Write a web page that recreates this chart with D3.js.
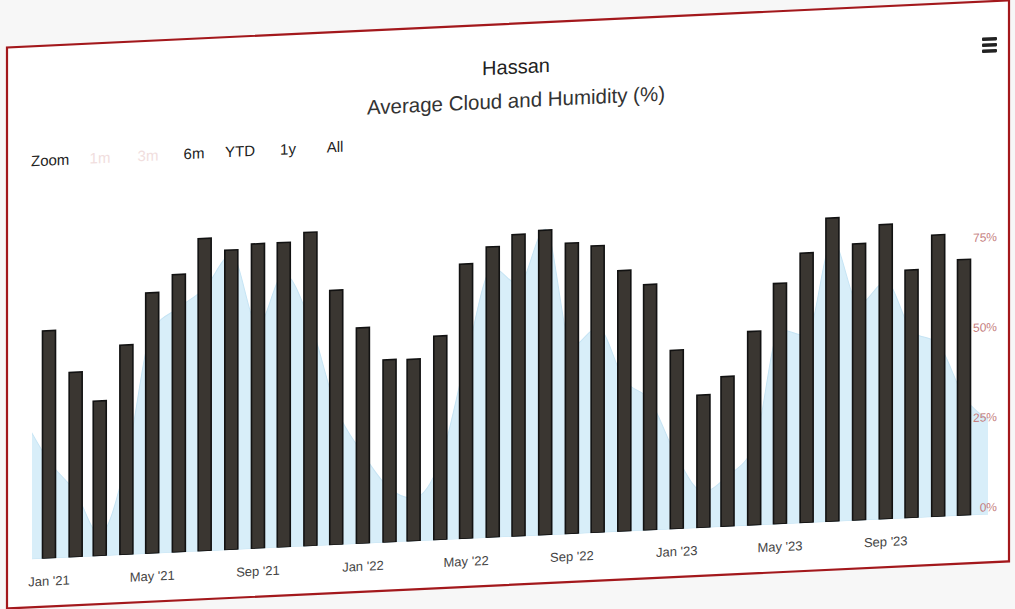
<!DOCTYPE html>
<html>
<head>
<meta charset="utf-8">
<script src="https://cdn.jsdelivr.net/npm/d3@7/dist/d3.min.js"></script>
<style>
  html, body { margin: 0; padding: 0; background: #f7f7f7; }
  svg { display: block; }
  text { font-family: "Liberation Sans", "Noto Sans", sans-serif; }
</style>
</head>
<body>
<svg id="chart" width="1015" height="609"></svg>
<script>
// Monthly average humidity (%), Jan 2021 - Dec 2023
const humidity = [
  63.3, 51.4, 43.1, 58.3, 72.5, 77.2, 86.9, 83.3, 84.7, 84.7, 87.2, 70.8,
  60.0, 50.8, 50.6, 56.7, 76.4, 80.8, 83.9, 84.7, 80.8, 79.7, 72.5, 68.3,
  49.7, 36.9, 41.7, 53.9, 66.9, 75.0, 84.4, 76.9, 81.9, 68.9, 78.3, 71.1
];
// Monthly average cloud cover (%), Dec 2020 - Jan 2024
const cloud = [
  40,
  27, 18, 6, 26, 62, 68, 73, 82, 62, 76, 62, 38,
  25, 15, 12, 22, 50, 75, 70, 85, 52, 57, 42, 36,
  20, 10, 14, 22, 54, 52, 78, 60, 66, 52, 48, 33,
  26
];
const humidityStart = "2021-01-01";
const cloudStart = "2020-12-01";
const xTickLabels = ["Jan '21", "May '21", "Sep '21", "Jan '22", "May '22", "Sep '22", "Jan '23", "May '23", "Sep '23"];
const xTickDates = ["2021-01-01", "2021-05-01", "2021-09-01", "2022-01-01", "2022-05-01", "2022-09-01", "2023-01-01", "2023-05-01", "2023-09-01"];
const yTicks = [0, 25, 50, 75];
const rangeButtons = ["1m", "3m", "6m", "YTD", "1y", "All"];
const rangeEnabled = [false, false, true, true, true, true];

const parse = d3.utcParse("%Y-%m-%d");
const humDates = humidity.map((_, i) => d3.utcMonth.offset(parse(humidityStart), i));
const cloudDates = cloud.map((_, i) => d3.utcMonth.offset(parse(cloudStart), i));

const svg = d3.select("#chart");

// chart frame, slightly sheared as displayed
const root = svg.append("g").attr("transform", "translate(0,23.8) skewY(-2.69)");

root.append("rect")
  .attr("x", 7).attr("y", 24).attr("width", 1002).attr("height", 561)
  .attr("fill", "#ffffff").attr("stroke", "#a3181c").attr("stroke-width", 2.2);

// titles
root.append("text").attr("x", 516).attr("y", 74).attr("text-anchor", "middle")
  .attr("font-size", 20).attr("fill", "#222").text("Hassan");
root.append("text").attr("x", 516).attr("y", 108).attr("text-anchor", "middle")
  .attr("font-size", 20.5).attr("fill", "#333").text("Average Cloud and Humidity (%)");

// export menu icon
const menu = root.append("g").attr("transform", "translate(982,60)");
[0, 6, 12].forEach(dy => menu.append("rect").attr("x", 0).attr("y", dy).attr("width", 15).attr("height", 3.4)
  .attr("rx", 1).attr("fill", "#222"));

// range selector
const rs = root.append("g").attr("font-size", 15);
rs.append("text").attr("x", 31).attr("y", 144).attr("fill", "#222").text("Zoom");
const btnX = [100, 148, 194, 240, 288, 335];
rangeButtons.forEach((b, i) => {
  rs.append("text").attr("x", btnX[i]).attr("y", 144).attr("text-anchor", "middle")
    .attr("fill", rangeEnabled[i] ? "#222" : "#f1dede").text(b);
});

// plot area
const plot = { left: 32, right: 988, top: 170, bottom: 537 };
const x = d3.scaleUtc()
  .domain([parse("2021-01-01"), parse("2023-12-01")])
  .range([49, 964]);
const y = d3.scaleLinear().domain([0, 100]).range([plot.bottom, plot.bottom - 360]);

root.append("clipPath").attr("id", "plotClip").append("rect")
  .attr("x", plot.left).attr("y", plot.top).attr("width", plot.right - plot.left).attr("height", plot.bottom - plot.top);

const pg = root.append("g").attr("clip-path", "url(#plotClip)");

// cloud cover area
const area = d3.area()
  .x((d, i) => x(cloudDates[i]))
  .y0(plot.bottom)
  .y1(d => y(d))
  .curve(d3.curveMonotoneX);
pg.append("path").datum(cloud)
  .attr("d", area)
  .attr("fill", "#d8eef9").attr("stroke", "#c6e4f4").attr("stroke-width", 1);

// humidity columns
const barW = 13;
pg.selectAll("rect.bar").data(humidity).join("rect")
  .attr("class", "bar")
  .attr("x", (d, i) => x(humDates[i]) - barW / 2)
  .attr("y", d => y(d))
  .attr("width", barW)
  .attr("height", d => plot.bottom - y(d))
  .attr("fill", "#3a3631").attr("stroke", "#121212").attr("stroke-width", 1.6);

// y axis labels (inside, right)
root.append("g").selectAll("text").data(yTicks).join("text")
  .attr("x", 997).attr("y", d => y(d) - 3)
  .attr("text-anchor", "end").attr("font-size", 12).attr("fill", "#c47c7c")
  .text(d => d + "%");

// x axis labels
root.append("g").selectAll("text").data(xTickLabels).join("text")
  .attr("x", (d, i) => x(parse(xTickDates[i])))
  .attr("y", 564)
  .attr("text-anchor", "middle").attr("font-size", 13).attr("fill", "#444")
  .text(d => d);
</script>
</body>
</html>
